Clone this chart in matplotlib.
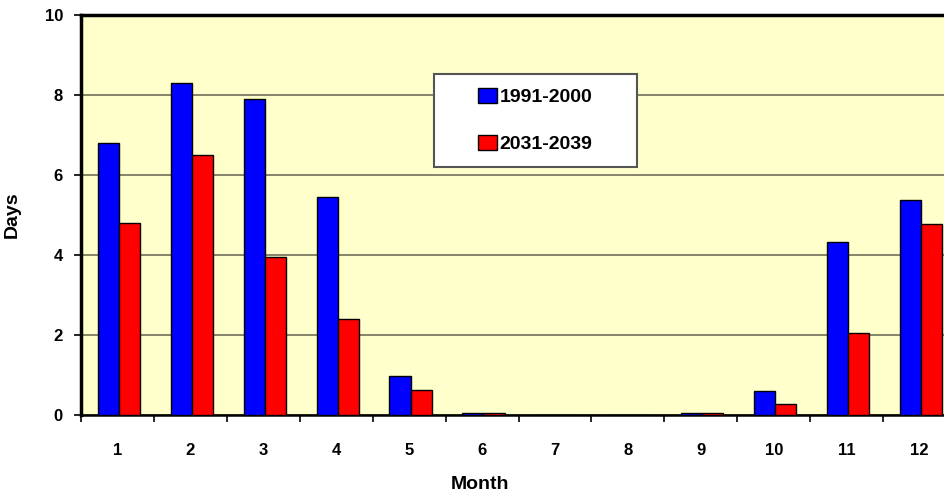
import numpy as np
import matplotlib.pyplot as plt
from matplotlib.patches import Rectangle

plt.rcParams['font.family'] = ['Liberation Sans', 'DejaVu Sans']
plt.rcParams['font.weight'] = 'bold'

months = ['1', '2', '3', '4', '5', '6', '7', '8', '9', '10', '11', '12']
days_1991 = [6.8, 8.3, 7.9, 5.45, 0.97, 0.05, 0.0, 0.0, 0.06, 0.6, 4.33, 5.37]
days_2031 = [4.8, 6.5, 3.95, 2.4, 0.62, 0.05, 0.0, 0.0, 0.05, 0.28, 2.05, 4.78]

fig = plt.figure(figsize=(9.44, 4.97), dpi=100)
# axes runs a little past the right edge, like the original crop
ax = fig.add_axes([81 / 944, 82 / 497, 875 / 944, 400 / 497])
ax.set_facecolor('#ffffcc')

x = np.arange(len(months))
w = 0.29
ax.bar(x - w / 2 + 0.02, days_1991, w, color='#0000ff', edgecolor='black',
       linewidth=1, label='1991-2000', zorder=3)
ax.bar(x + w / 2 + 0.02, days_2031, w, color='#ff0000', edgecolor='black',
       linewidth=1, label='2031-2039', zorder=3)

ax.set_xlim(-0.5, 11.5)
ax.set_ylim(0, 10)
ax.set_yticks([0, 2, 4, 6, 8, 10])
ax.yaxis.grid(True, color='#707058', linewidth=1.2, zorder=1)
ax.set_axisbelow(True)

ax.set_xticks(x)
ax.set_xticklabels(months)
ax.set_xticks(np.arange(-0.5, 12, 1), minor=True)
ax.tick_params(axis='x', which='major', length=0, pad=20, labelsize=12)
ax.tick_params(axis='x', which='minor', length=5, width=1.2, direction='out')
ax.tick_params(axis='y', length=5, width=1.2, labelsize=12, pad=8)

for s in ['left', 'top']:
    ax.spines[s].set_linewidth(2.5)
ax.spines['bottom'].set_linewidth(1.8)
ax.spines['right'].set_visible(False)

ax.set_xlabel('Month', fontsize=14, fontweight='bold')
ax.xaxis.set_label_coords(0.456, -0.153)
fig.text(12 / 944, 1 - 215 / 497, 'Days', rotation=90, fontsize=14,
         fontweight='bold', ha='center', va='center')

# legend box
ax.add_patch(Rectangle((0.4034, 0.62), 0.232, 0.2325, transform=ax.transAxes,
                       facecolor='white', edgecolor='#555555', linewidth=1.5,
                       zorder=4))
leg = ax.legend(loc='center', bbox_to_anchor=(0.519, 0.736), frameon=False,
                fontsize=14, handlelength=1.0, handleheight=0.8,
                handletextpad=0.1, labelspacing=1.5, borderaxespad=0)
leg.set_zorder(5)
for t in leg.get_texts():
    t.set_fontweight('bold')

fig.savefig('out.png', dpi=100)
